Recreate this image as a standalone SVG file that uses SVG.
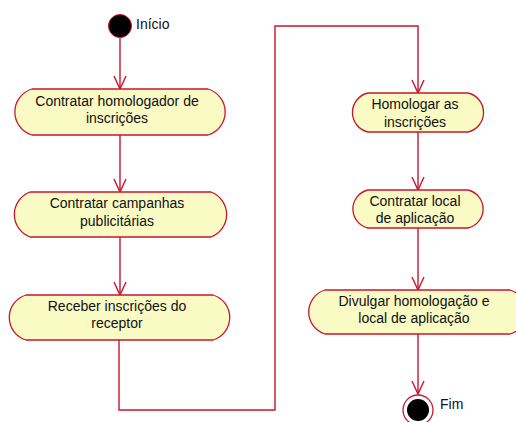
<svg xmlns="http://www.w3.org/2000/svg" width="516" height="422" viewBox="0 0 516 422">
  <style>
    .act { fill: #FAFAC4; stroke: #C8162E; stroke-width: 1.3; }
    .lbl { font-family: "Liberation Sans", Arial, sans-serif; font-size: 14px; fill: #111; text-anchor: middle; }
    .side { font-family: "Liberation Sans", Arial, sans-serif; font-size: 14px; fill: #111; }
    .flow { fill: none; stroke: #C8162E; stroke-width: 1.4; }
  </style>
  <defs>
    <marker id="open" markerUnits="userSpaceOnUse" markerWidth="16" markerHeight="16" viewBox="-14 -8 16 16" refX="0" refY="0" orient="auto">
      <path d="M-13,-6 L0,0 L-13,6" fill="none" stroke="#C8162E" stroke-width="1.4"/>
    </marker>
  </defs>

  <rect width="516" height="422" fill="#FFFFFF"/>

  <!-- connectors -->
  <g id="connectors">
    <line class="flow" x1="120" y1="38" x2="120" y2="89" marker-end="url(#open)"/>
    <line class="flow" x1="120" y1="135" x2="120" y2="192" marker-end="url(#open)"/>
    <line class="flow" x1="120" y1="237" x2="120" y2="295" marker-end="url(#open)"/>
    <polyline class="flow" points="119,340 119,410 275,410 275,26 418,26 418,93" marker-end="url(#open)"/>
    <line class="flow" x1="418" y1="132" x2="418" y2="190" marker-end="url(#open)"/>
    <line class="flow" x1="418" y1="228" x2="418" y2="290" marker-end="url(#open)"/>
    <line class="flow" x1="418" y1="334" x2="418" y2="394" marker-end="url(#open)"/>
  </g>

  <!-- initial state -->
  <g id="inicio">
    <circle cx="120" cy="26" r="11.5" fill="#000" stroke="#C8162E" stroke-width="1"/>
    <text class="side" x="136" y="29">Início</text>
  </g>

  <!-- activities, left column -->
  <g id="a1">
    <path class="act" d="M32,89 H208 A24,24 0 0 1 208,135 H32 A24,24 0 0 1 32,89 Z"/>
    <text class="lbl" x="117" y="106">Contratar homologador de</text>
    <text class="lbl" x="117" y="123">inscrições</text>
  </g>
  <g id="a2">
    <path class="act" d="M30,192 H211 A24,24 0 0 1 211,237 H30 A24,24 0 0 1 30,192 Z"/>
    <text class="lbl" x="117" y="208">Contratar campanhas</text>
    <text class="lbl" x="117" y="226">publicitárias</text>
  </g>
  <g id="a3">
    <path class="act" d="M26,295 H213 A23.5,23.5 0 0 1 213,340 H26 A23.5,23.5 0 0 1 26,295 Z"/>
    <text class="lbl" x="117" y="311">Receber inscrições do</text>
    <text class="lbl" x="117" y="328">receptor</text>
  </g>

  <!-- activities, right column -->
  <g id="a4">
    <path class="act" d="M368,93 H468 A20,20 0 0 1 468,132 H368 A20,20 0 0 1 368,93 Z"/>
    <text class="lbl" x="415" y="109">Homologar as</text>
    <text class="lbl" x="415" y="127">inscrições</text>
  </g>
  <g id="a5">
    <path class="act" d="M368,190 H468 A19.5,19.5 0 0 1 468,228 H368 A19.5,19.5 0 0 1 368,190 Z"/>
    <text class="lbl" x="415" y="206">Contratar local</text>
    <text class="lbl" x="415" y="223">de aplicação</text>
  </g>
  <g id="a6">
    <path class="act" d="M325,290 H510 A23,23 0 0 1 510,334 H325 A23,23 0 0 1 325,290 Z"/>
    <text class="lbl" x="414" y="306">Divulgar homologação e</text>
    <text class="lbl" x="414" y="323">local de aplicação</text>
  </g>

  <!-- final state -->
  <g id="fim">
    <circle cx="418" cy="410" r="15" fill="#FFFFFF" stroke="#C8162E" stroke-width="1.3"/>
    <circle cx="418" cy="410" r="11" fill="#000"/>
    <text class="side" x="440" y="409">Fim</text>
  </g>
</svg>
